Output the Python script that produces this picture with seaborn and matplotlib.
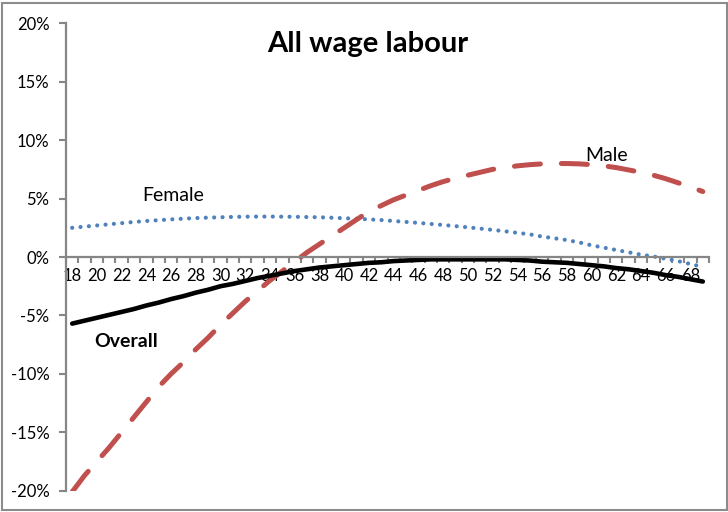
import matplotlib
matplotlib.use("Agg")
import matplotlib.pyplot as plt
from matplotlib.patches import Rectangle
import seaborn as sns
import numpy as np
import pandas as pd

ages = list(range(18, 70))
female = [2.5, 2.6, 2.7, 2.8, 2.9, 3.0, 3.08, 3.15, 3.22, 3.28, 3.33, 3.37, 3.4, 3.43,
          3.45, 3.46, 3.46, 3.45, 3.44, 3.42, 3.4, 3.36, 3.32, 3.27, 3.22, 3.16, 3.08,
          3.0, 2.92, 2.83, 2.74, 2.64, 2.54, 2.43, 2.32, 2.2, 2.07, 1.94, 1.75, 1.6,
          1.45, 1.25, 1.0, 0.8, 0.6, 0.4, 0.2, 0.05, -0.15, -0.35, -0.6, -0.85]
male = [-20.1, -18.7, -17.5, -16.3, -15.0, -13.7, -12.4, -11.1, -10.0, -9.0, -7.9,
        -6.9, -5.8, -4.8, -3.8, -2.9, -2.0, -1.2, -0.4, 0.4, 1.1, 1.8, 2.5, 3.2, 3.9,
        4.4, 4.9, 5.3, 5.7, 6.1, 6.45, 6.75, 7.0, 7.25, 7.5, 7.65, 7.8, 7.9, 7.97, 8.0,
        8.0, 7.97, 7.9, 7.8, 7.65, 7.45, 7.25, 7.0, 6.7, 6.35, 6.0, 5.6]
overall = [-5.7, -5.45, -5.2, -4.95, -4.7, -4.45, -4.15, -3.9, -3.6, -3.35, -3.05,
           -2.8, -2.5, -2.3, -2.05, -1.8, -1.6, -1.4, -1.2, -1.05, -0.9, -0.8, -0.7,
           -0.6, -0.5, -0.45, -0.35, -0.3, -0.25, -0.2, -0.2, -0.2, -0.2, -0.2, -0.2,
           -0.2, -0.25, -0.3, -0.4, -0.45, -0.5, -0.6, -0.7, -0.8, -0.95, -1.05, -1.2,
           -1.35, -1.55, -1.7, -1.9, -2.1]
y_ticks = [-20, -15, -10, -5, 0, 5, 10, 15, 20]
x_labels = list(range(18, 69, 2))
title = "All wage labour"

sns.set_theme(style="white")
plt.rcParams["font.family"] = ["Lato", "DejaVu Sans"]

df = pd.DataFrame({"age": ages, "Female": female, "Male": male, "Overall": overall})

fig = plt.figure(figsize=(7.28, 5.12), dpi=100)
ax = fig.add_axes([66 / 728, 1 - 490.7 / 512, 643 / 728, (490.7 - 23.3) / 512])

sns.lineplot(data=df, x="age", y="Female", ax=ax, color="#4F81BD", linewidth=3.0,
             linestyle=(0, (0.01, 2.0)), dash_capstyle="round")
sns.lineplot(data=df, x="age", y="Male", ax=ax, color="#C0504D", linewidth=3.6,
             linestyle=(0, (5.2, 4.2)), dash_capstyle="round")
sns.lineplot(data=df, x="age", y="Overall", ax=ax, color="black", linewidth=3.3,
             solid_capstyle="round")

ax.set_xlim(17.5, 69.5)
ax.set_ylim(-20, 20)
ax.set_xlabel("")
ax.set_ylabel("")

spine_col = "#868686"
for s in ["top", "right"]:
    ax.spines[s].set_visible(False)
ax.spines["bottom"].set_position(("data", 0))
ax.spines["bottom"].set_color(spine_col)
ax.spines["left"].set_color(spine_col)
ax.spines["bottom"].set_linewidth(1.6)
ax.spines["left"].set_linewidth(1.6)

ax.set_yticks(y_ticks)
ax.set_yticklabels([f"{v}%" for v in y_ticks])
ax.tick_params(axis="y", direction="out", length=5, width=1.5, color=spine_col,
               pad=7, labelsize=12, left=True, labelcolor="black")

ax.set_xticks(x_labels)
ax.set_xticklabels([str(v) for v in x_labels])
ax.set_xticks(np.arange(17.5, 70, 1.0), minor=True)
ax.tick_params(axis="x", which="major", length=0, pad=8, labelsize=12, labelcolor="black")
ax.tick_params(axis="x", which="minor", direction="out", length=4.5, width=1.5,
               color=spine_col, bottom=True)
ax.grid(False)

ax.text(26.2, 4.8, "Female", ha="center", va="baseline", fontsize=14, color="black")
ax.text(61.2, 8.2, "Male", ha="center", va="baseline", fontsize=14, color="black")
ax.text(22.35, -7.67, "Overall", ha="center", va="baseline", fontsize=14,
        fontweight="bold", color="black")

fig.text(368 / 728, 1 - 52 / 512, title, ha="center", va="baseline", fontsize=21,
         fontweight="bold", color="black")

fig.patches.append(Rectangle((2 / 728, 2 / 512), 1 - 3 / 728, 1 - 5 / 512,
                             transform=fig.transFigure, fill=False,
                             edgecolor="#8c8c8c", linewidth=1.5))

fig.savefig("out.png", dpi=100)
